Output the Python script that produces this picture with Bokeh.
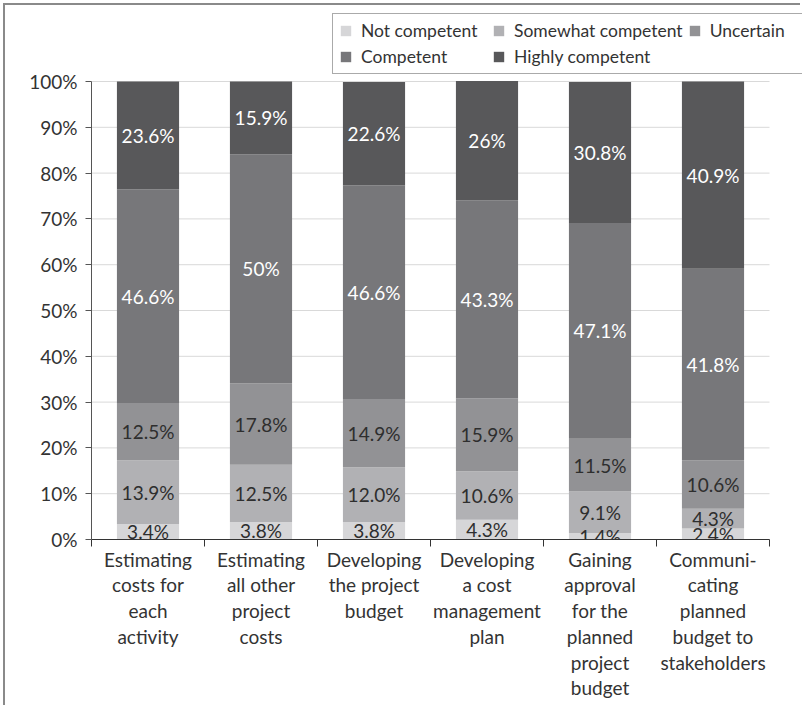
from bokeh.plotting import figure
from bokeh.models import ColumnDataSource, Legend, LegendItem, FixedTicker
from bokeh.core.properties import value
from bokeh.embed import file_html
from bokeh.resources import INLINE

categories = [
    "Estimating\ncosts for\neach\nactivity",
    "Estimating\nall other\nproject\ncosts",
    "Developing\nthe project\nbudget",
    "Developing\na cost\nmanagement\nplan",
    "Gaining\napproval\nfor the\nplanned\nproject\nbudget",
    "Communi-\ncating\nplanned\nbudget to\nstakeholders",
]
series_names = ["Not competent", "Somewhat competent", "Uncertain", "Competent", "Highly competent"]
not_competent = [3.4, 3.8, 3.8, 4.3, 1.4, 2.4]
somewhat_competent = [13.9, 12.5, 12.0, 10.6, 9.1, 4.3]
uncertain = [12.5, 17.8, 14.9, 15.9, 11.5, 10.6]
competent = [46.6, 50, 46.6, 43.3, 47.1, 41.8]
highly_competent = [23.6, 15.9, 22.6, 26, 30.8, 40.9]
y_ticks = [0, 10, 20, 30, 40, 50, 60, 70, 80, 90, 100]
y_tick_labels = ["0%", "10%", "20%", "30%", "40%", "50%", "60%", "70%", "80%", "90%", "100%"]

colors = ["#d6d6d8", "#b1b1b4", "#929295", "#77777a", "#58585a"]
label_colors = ["#2e2e2e", "#2e2e2e", "#2e2e2e", "#ffffff", "#ffffff"]
FONT = "Lato"
TEXT = "#333333"

series = [not_competent, somewhat_competent, uncertain, competent, highly_competent]
keys = ["s%d" % i for i in range(len(series))]
n_cat = len(categories)
xs = [i + 0.5 for i in range(n_cat)]
data = {"x": xs}
for k, s in zip(keys, series):
    data[k] = s
src = ColumnDataSource(data)

# frame reaches to the right canvas edge and up over the legend
p = figure(width=797, height=702, x_range=(0, 6.292), y_range=(0, 116.16),
           output_backend="svg", toolbar_location=None,
           min_border_left=86, min_border_right=0, min_border_top=2, min_border_bottom=168)
p.outline_line_color = None
p.styles = {"border-left": "2px solid #8a8a8a", "border-top": "2px solid #8a8a8a",
            "margin-left": "3px", "margin-top": "3px"}

# horizontal grid lines across the category extent
p.xgrid.grid_line_color = None
p.ygrid.grid_line_color = None
p.segment(x0=0, x1=n_cat, y0=y_ticks, y1=y_ticks, line_color="#d9d9d9", line_width=1)

renderers = p.vbar_stack(keys, x="x", width=0.55, fill_color=colors, line_color=None, source=src)

# data labels
lx, ly, lt, lc = [], [], [], []
for j, x in enumerate(xs):
    base = 0.0
    for i, s in enumerate(series):
        v = s[j]
        lx.append(x)
        ly.append(base + v / 2.0)
        lt.append(f"{v}%")
        lc.append(label_colors[i])
        base += v
lsrc = ColumnDataSource(dict(x=lx, y=ly, text=lt, color=lc))
p.text(x="x", y="y", text="text", text_color="color", source=lsrc,
       text_font=value(FONT), text_font_size="19px", text_align="center", text_baseline="middle")

ya = p.yaxis[0]
ya.bounds = (0, 100)
ya.ticker = FixedTicker(ticks=y_ticks)
ya.major_label_overrides = {t: l for t, l in zip(y_ticks, y_tick_labels)}
ya.axis_line_color = "#555555"
ya.major_tick_line_color = "#555555"
ya.major_tick_out = 6
ya.major_tick_in = 0
ya.minor_tick_line_color = None
ya.major_label_standoff = 8
ya.major_label_text_font = FONT
ya.major_label_text_font_size = "19px"
ya.major_label_text_color = TEXT

xa = p.xaxis[0]
xa.bounds = (0, n_cat)
xa.ticker = FixedTicker(ticks=xs, minor_ticks=list(range(n_cat + 1)))
xa.major_label_overrides = {x: c for x, c in zip(xs, categories)}
xa.axis_line_color = "#333333"
xa.major_tick_line_color = None
xa.major_tick_out = 0
xa.minor_tick_line_color = "#333333"
xa.minor_tick_out = 7
xa.minor_tick_in = 0
xa.major_label_standoff = 1
xa.major_label_text_font = FONT
xa.major_label_text_font_size = "19px"
xa.major_label_text_color = TEXT
xa.major_label_text_line_height = 1.12

items = [LegendItem(label=n, renderers=[r]) for n, r in zip(series_names, renderers)]
legend = Legend(items=items, location=(241, 465), orientation="horizontal", ncols=3,
                glyph_width=13, glyph_height=13, label_standoff=9, spacing=5,
                padding=6, margin=0, label_height=13, label_width=126,
                label_text_font=FONT, label_text_font_size="17.5px", label_text_color=TEXT,
                border_line_color="#555555", border_line_width=1,
                background_fill_color="white", background_fill_alpha=1)
p.add_layout(legend)

open("out.html", "w").write(file_html(p, INLINE))
